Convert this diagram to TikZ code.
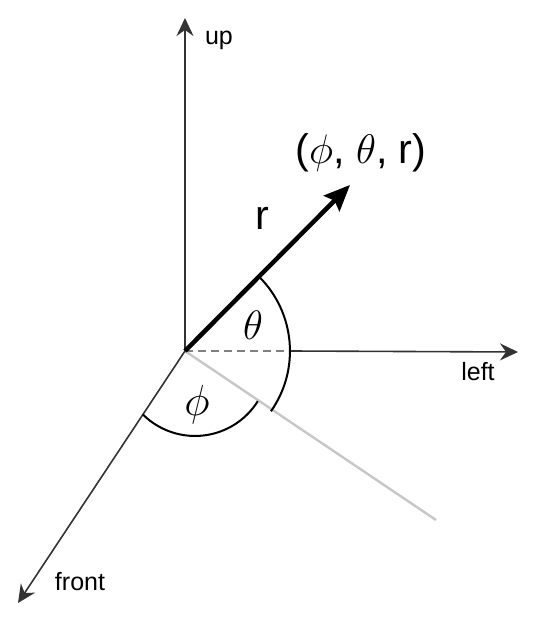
\documentclass[tikz,border=0pt]{standalone}
\usepackage{fontspec}
\setmainfont{Liberation Sans}
\usetikzlibrary{arrows.meta}

\begin{document}
\begin{tikzpicture}[x=1pt,y=1pt,
		axis/.style={draw=black!80, line width=1.6pt, -{Stealth[length=18pt,width=17pt,inset=6pt]}},
		axislabel/.style={font=\fontsize{25}{29}\selectfont},
		anglearc/.style={draw=black, line width=2pt},
		biglabel/.style={font=\Huge, scale=1.66}
	]
		\useasboundingbox (0,0) rectangle (540,627);
		% points
		\coordinate (O) at (185,276);
		\coordinate (up) at (185,609);
		\coordinate (left) at (518,275);
		\coordinate (front) at (18,24);
		\coordinate (proj) at (436,107);
		\coordinate (dashend) at (290,276);
		\coordinate (rtip) at (350,442);
		\coordinate (thetastart) at (259.2,350.2);
		\coordinate (phistart) at (142.7,212.7);
		% projection and helper lines
		\draw[black!22, line width=2.4pt] (O) -- (proj);
		\draw[black!50, line width=2pt, dash pattern=on 8pt off 5pt] (O) -- (dashend);
		% axes
		\draw[axis] (O) -- (up);
		\draw[axis] (dashend) -- (left);
		\draw[axis] (O) -- (front);
		% angles
		\draw[anglearc] (thetastart) arc[start angle=45, end angle=-35, radius=105];
		\draw[anglearc] (phistart) arc[start angle=225, end angle=328, radius=74];
		% r vector
		\draw[black, line width=4.5pt, -{Stealth[length=26pt,width=22pt,inset=4pt]}] (O) -- (rtip);
		% labels
		\node[axislabel] (uplabel) at (219,587) {up};
		\node[axislabel] (leftlabel) at (478,255) {left};
		\node[axislabel] (frontlabel) at (80,45) {front};
		\node[biglabel] (rlabel) at (262,409) {r};
		\node[biglabel] (point) at (361,474) {($\phi$, $\theta$, r)};
		\node[font=\Huge, scale=1.65] (thetalabel) at (253,302) {$\theta$};
		\node[font=\Huge, scale=1.75] (philabel) at (197,222) {$\phi$};
	\end{tikzpicture}
\end{document}
